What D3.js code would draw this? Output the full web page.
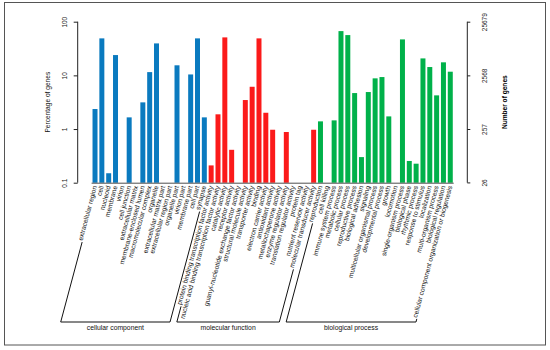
<!DOCTYPE html>
<html>
<head>
<meta charset="utf-8">
<script src="https://cdn.jsdelivr.net/npm/d3@7"></script>
<style>
	body { margin: 0; background: white; }
	text { font-family: "Liberation Sans", Arial, sans-serif; }
</style>
</head>
<body>
<script>
// GO annotation, percentage of genes per term (log scale)

var ccTerms = ['extracellular region', 'cell', 'nucleoid', 'membrane', 'virion', 'cell junction',
	'extracellular matrix', 'membrane-enclosed lumen', 'macromolecular complex', 'organelle',
	'extracellular matrix part', 'extracellular region part', 'organelle part', 'virion part',
	'membrane part', 'cell part', 'synapse']
var ccPct = [2.36, 48.9, 0.15, 23.9, 0, 1.65, 0, 3.14, 11.5, 39.4, 0, 0, 15.4, 0, 10.4, 48.9, 1.65]

var mfTerms = ['protein binding transcription factor activity', 'nucleic acid binding transcription factor activity',
	'catalytic activity', 'receptor activity', 'guanyl-nucleotide exchange factor activity',
	'structural molecule activity', 'transporter activity', 'binding', 'electron carrier activity',
	'antioxidant activity', 'metallochaperone activity', 'enzyme regulator activity',
	'translation regulator activity', 'protein tag', 'nutrient reservoir activity', 'molecular transducer activity']
var mfPct = [0.21, 1.88, 51, 0.41, 0, 3.47, 6.13, 48.9, 2.01, 0.97, 0, 0.88, 0, 0, 0, 0.97]

var bpTerms = ['reproduction', 'cell killing', 'immune system process', 'metabolic process', 'cellular process',
	'reproductive process', 'biological adhesion', 'signaling', 'multicellular organismal process',
	'developmental process', 'growth', 'locomotion', 'single-organism process', 'biological phase',
	'rhythmic process', 'response to stimulus', 'localization', 'multi-organism process',
	'biological regulation', 'cellular component organization or biogenesis']
var bpPct = [1.39, 0, 1.45, 66.8, 56.3, 4.68, 0.30, 4.89, 8.8, 9.3, 1.72, 0, 46.8, 0.254, 0.226, 20.7, 14.3, 4.24, 17.5, 11.7]

var groups = ['cellular component', 'molecular function', 'biological process']
var groupColors = ['#0a7abf', '#fb1a1a', '#00b14a']

var pctTicks = [0.1, 1, 10, 100]
var pctTickLabels = ['0.1', '1', '10', '100']
var geneTicks = [26, 257, 2568, 25679]
var totalGenes = 25679

var rows = []
;[ccTerms, mfTerms, bpTerms].forEach(function(terms, g) {
	var vals = [ccPct, mfPct, bpPct][g]
	terms.forEach(function(t, i) {
		rows.push({term: t, pct: vals[i], group: g})
	})
})

var width = 550,
	height = 350

var svg = d3.select('body').append('svg')
	.attr('width', width)
	.attr('height', height)

// frame
svg.append('rect')
	.attr('x', 4.5).attr('y', 2.5)
	.attr('width', 541).attr('height', 342.5)
	.attr('fill', 'none')
	.attr('stroke', '#555')
	.attr('stroke-width', 1)

var x = d3.scaleBand()
	.domain(rows.map(d => d.term))
	.range([91.6, 453.7])
	.paddingInner(0.27)
	.paddingOuter(0.135)

var y = d3.scaleLog()
	.domain([0.1, 100])
	.range([182.7, 21.7])

var yGenes = d3.scaleLog()
	.domain([totalGenes / 1000, totalGenes])
	.range([182.7, 21.7])

// bars
svg.selectAll('rect.bar')
	.data(rows.filter(d => d.pct > 0.1))
	.enter()
	.append('rect')
		.attr('class', 'bar')
		.attr('x', d => x(d.term))
		.attr('width', x.bandwidth())
		.attr('y', d => y(d.pct))
		.attr('height', d => y(0.1) - y(d.pct))
		.attr('fill', d => groupColors[d.group])

// baseline under the bars
svg.append('line')
	.attr('x1', x.range()[0]).attr('x2', x.range()[1])
	.attr('y1', y(0.1) + 0.5).attr('y2', y(0.1) + 0.5)
	.attr('stroke', '#222')
	.attr('stroke-width', 0.8)

// left axis
var leftAxis = svg.append('g')
	.attr('transform', 'translate(77.7,0)')
	.call(d3.axisLeft(y).tickValues(pctTicks).tickFormat((d, i) => pctTickLabels[i]).tickSize(4).tickPadding(0))
leftAxis.select('.domain').attr('stroke', '#222').attr('d', 'M0,' + y(0.1) + 'V' + y(100))
leftAxis.selectAll('.tick line').attr('stroke', '#222')
leftAxis.selectAll('.tick text')
	.attr('font-size', 6.5)
	.attr('fill', '#222')
	.attr('x', 0).attr('dy', 0)
	.attr('text-anchor', 'middle')
	.attr('transform', 'translate(-10.5,0) rotate(-90)')

svg.append('text')
	.attr('transform', 'translate(50.2,' + (y(0.1) + y(100)) / 2 + ') rotate(-90)')
	.attr('text-anchor', 'middle')
	.attr('font-size', 6.6)
	.attr('fill', '#111')
	.text('Percentage of genes')

// right axis, number of genes
var rightAxis = svg.append('g')
	.attr('transform', 'translate(467.3,0)')
	.call(d3.axisRight(yGenes).tickValues(geneTicks).tickFormat(d3.format('d')).tickSize(3).tickPadding(0))
rightAxis.select('.domain').attr('stroke', '#222').attr('d', 'M0,' + y(0.1) + 'V' + y(100))
rightAxis.selectAll('.tick line').attr('stroke', '#222')
rightAxis.selectAll('.tick text')
	.attr('font-size', 6.5)
	.attr('fill', '#222')
	.attr('x', 0).attr('dy', 0)
	.attr('text-anchor', 'middle')
	.attr('transform', 'translate(20,0) rotate(-90)')

svg.append('text')
	.attr('transform', 'translate(506.5,' + (y(0.1) + y(100)) / 2 + ') rotate(-90)')
	.attr('text-anchor', 'middle')
	.attr('font-size', 6.6)
	.attr('font-weight', 'bold')
	.attr('fill', '#000')
	.text('Number of genes')

// rotated term labels
var ang = 75,
	rad = ang * Math.PI / 180,
	labY = 186.5

var labels = svg.selectAll('text.term')
	.data(rows)
	.enter()
	.append('text')
		.attr('class', 'term')
		.attr('text-anchor', 'end')
		.attr('font-size', 6.7)
		.attr('fill', '#111')
		.attr('transform', d => 'translate(' + (x(d.term) + x.bandwidth() / 2 + 2) + ',' + labY + ') rotate(' + (-ang) + ')')
		.text(d => d.term)

// group brackets following the first and last label of each group
var brY = 322
labels.each(function(d) { d.len = this.getComputedTextLength() })

groups.forEach(function(name, g) {
	var gr = rows.filter(d => d.group == g)
	var ends = [gr[0], gr[gr.length - 1]].map(function(d) {
		var ex = x(d.term) + x.bandwidth() / 2 + 2
		var sx = ex - (d.len + 1) * Math.cos(rad),
			sy = labY + (d.len + 1) * Math.sin(rad)
		var bx = sx - (brY - sy) / Math.tan(rad)
		return [sx, sy, bx]
	})
	var path = d3.path()
	path.moveTo(ends[0][0], ends[0][1])
	path.lineTo(ends[0][2], brY)
	path.lineTo(ends[1][2], brY)
	path.lineTo(ends[1][0], ends[1][1])
	svg.append('path')
		.attr('d', path.toString())
		.attr('fill', 'none')
		.attr('stroke', '#111')
		.attr('stroke-width', 1)

	svg.append('text')
		.attr('x', (ends[0][2] + ends[1][2]) / 2)
		.attr('y', brY + 8)
		.attr('text-anchor', 'middle')
		.attr('font-size', 6.8)
		.attr('fill', '#111')
		.text(name)
})
</script>
</body>
</html>
